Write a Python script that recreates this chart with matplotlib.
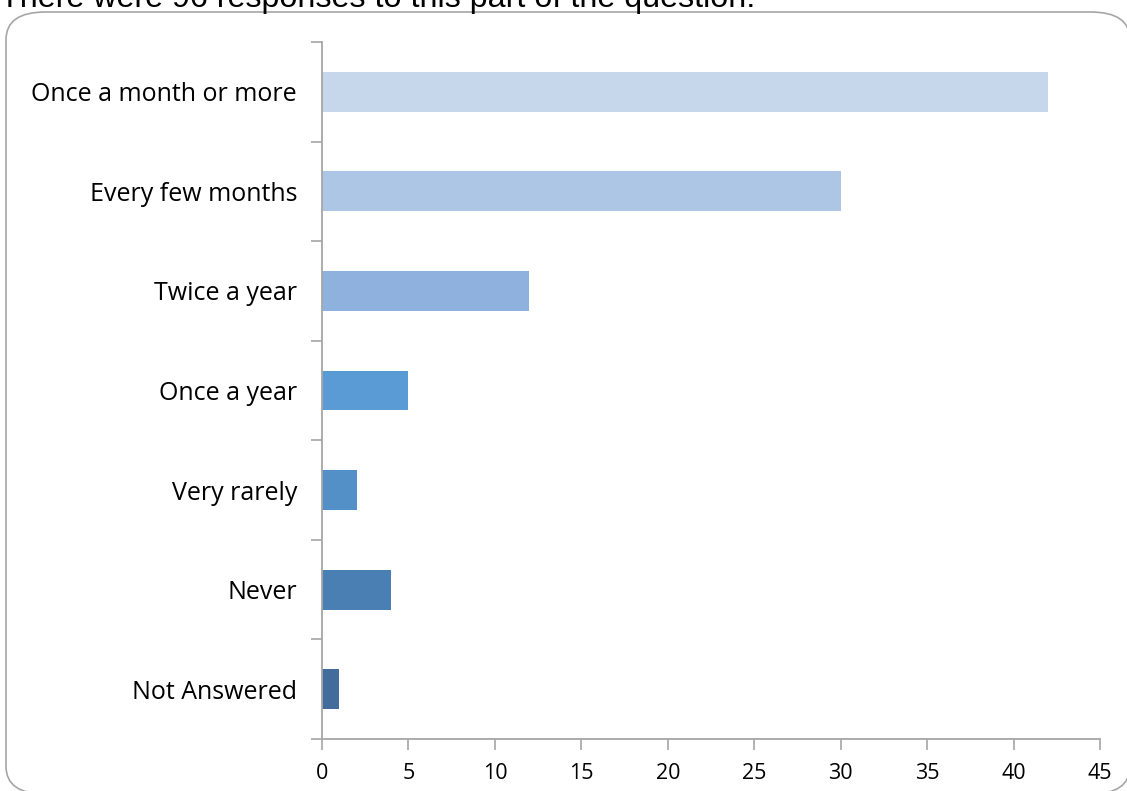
import matplotlib.pyplot as plt
from matplotlib.patches import FancyBboxPatch

# Dados
categorias = ['Once a month or more', 'Every few months', 'Twice a year',
              'Once a year', 'Very rarely', 'Never', 'Not Answered']
respostas = [42, 30, 12, 5, 2, 4, 1]
cores = ['#C6D7EC', '#AEC6E6', '#8EB2DD', '#5B9BD5', '#5490C8', '#4A7FB4', '#416C9C']
titulo = 'There were 96 responses to this part of the question.'

W, H = 1127, 791
fig = plt.figure(figsize=(W / 100, H / 100), dpi=100)

# Moldura arredondada (sai um pouco da figura à direita e em baixo)
frame = FancyBboxPatch((6 / W, -3 / H), 1124 / W, (791 - 12 + 3) / H,
                       boxstyle='round,pad=0,rounding_size=0.035',
                       transform=fig.transFigure, facecolor='white',
                       edgecolor='#A6A6A6', linewidth=1.2, zorder=-5)
fig.patches.append(frame)

fig.text(0, 1 - 7 / H, titulo, fontsize=23.2, family='Liberation Sans',
         ha='left', va='baseline')

ax = fig.add_axes([322 / W, 1 - 739 / H, (1100 - 322) / W, (739 - 42) / H])
ax.set_facecolor('none')
ax.set_zorder(2)

pos = list(range(len(categorias)))
ax.barh(pos, respostas, height=0.4, color=cores, zorder=2)

ax.set_xlim(0, 45)
ax.set_ylim(len(categorias) - 0.5, -0.5)
ax.set_xticks(range(0, 46, 5))
ax.set_yticks([p - 0.5 for p in pos] + [len(categorias) - 0.5])
ax.set_yticklabels([])
ax.set_yticks(pos, minor=True)
ax.set_yticklabels(categorias, minor=True)

for s in ['top', 'right']:
    ax.spines[s].set_visible(False)
for s in ['left', 'bottom']:
    ax.spines[s].set_color('#A6A6A6')
    ax.spines[s].set_linewidth(1.3)

ax.tick_params(axis='y', which='major', length=8, color='#A6A6A6', width=1.2)
ax.tick_params(axis='y', which='minor', length=0, pad=18, labelsize=18)
ax.tick_params(axis='x', length=8, color='#A6A6A6', width=1.2, labelsize=15.5, pad=9)
for lbl in ax.get_xticklabels() + ax.get_yticklabels(minor=True):
    lbl.set_family('Open Sans')

fig.savefig('out.png', dpi=100)
